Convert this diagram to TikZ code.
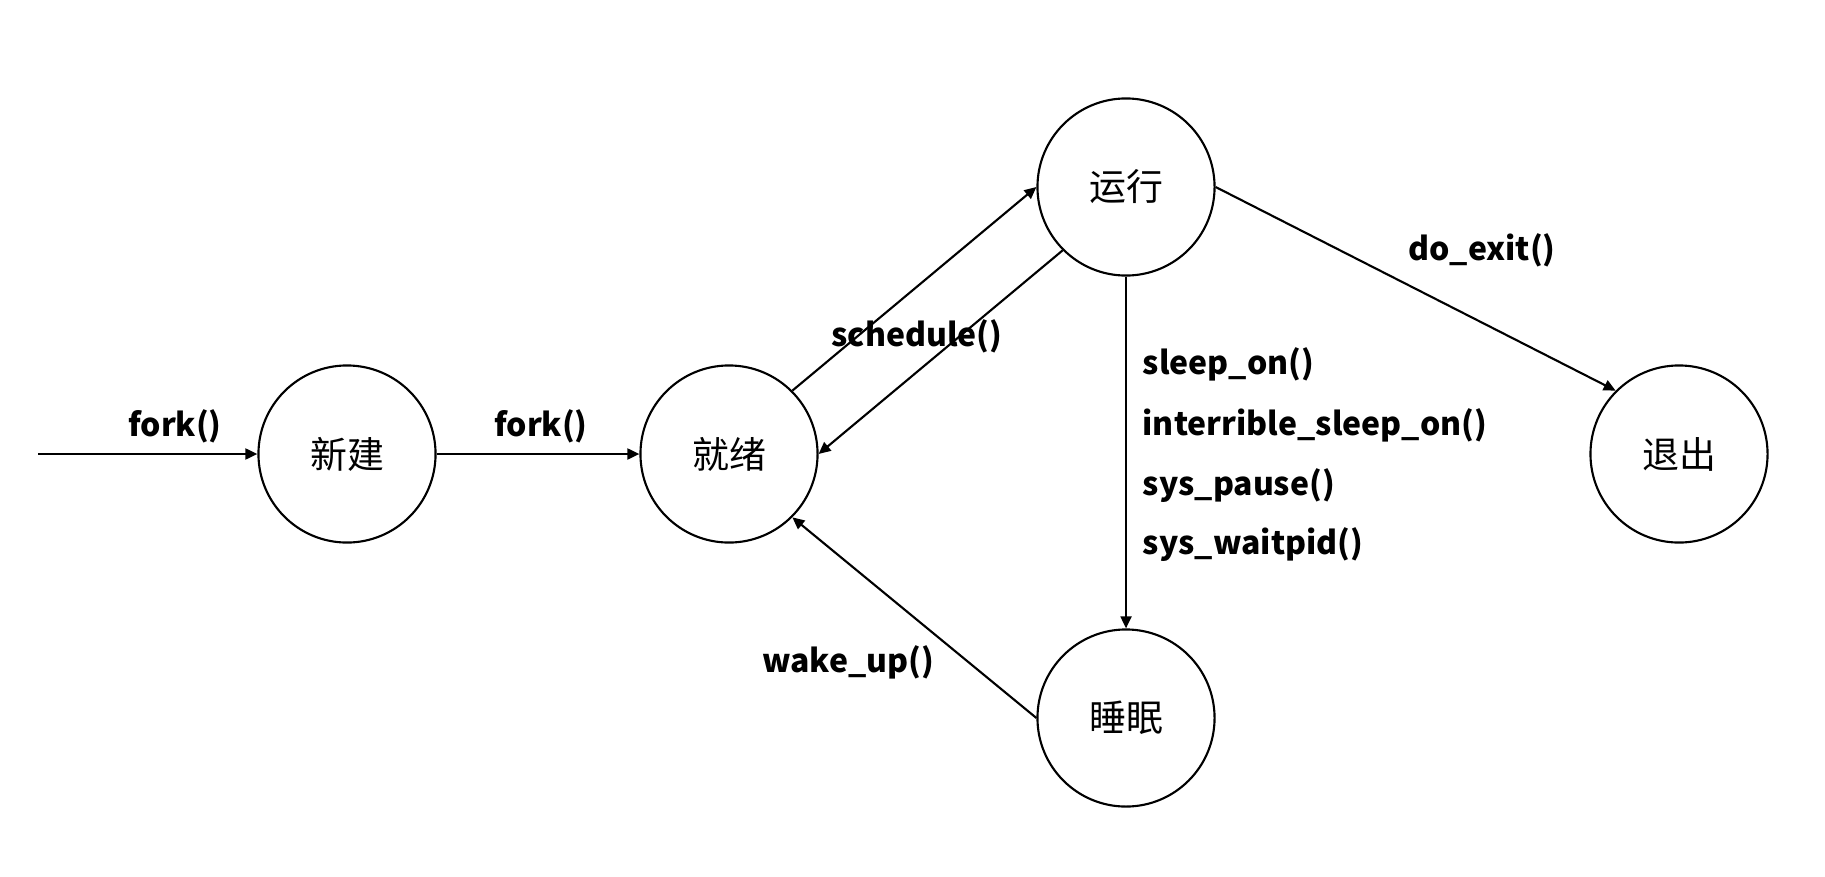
\documentclass[tikz,border=0pt]{standalone}
\usepackage{fontspec}
\setmainfont{Noto Sans CJK SC}
\usetikzlibrary{arrows.meta}

\tikzset{
  state/.style={draw, circle, line width=0.6pt, minimum size=1.77cm, inner sep=0pt, font=\fontsize{10.5pt}{12pt}\selectfont},
  lab/.style={draw=none, inner sep=0pt, font=\fontsize{9.1pt}{10pt}\selectfont\bfseries},
  arr/.style={line width=0.6pt, -{Triangle[length=3.4pt, width=3.1pt]}}
}

\begin{document}
\begin{tikzpicture}[x=0.01cm, y=-0.01cm]
    \useasboundingbox (0,0) rectangle (1825,876);
    % states
    \node(new) at (347,454) [state] {新建};
    \node(ready) at (729,454) [state] {就绪};
    \node(run) at (1126,187) [state] {运行};
    \node(sleep) at (1126,718) [state] {睡眠};
    \node(exit) at (1679,454) [state] {退出};
    \coordinate(start) at (38,454);
    % labels
    \node(lfork1) at (175,436) [lab, anchor=base] {fork()};
    \node(lfork2) at (541,436) [lab, anchor=base] {fork()};
    \node(lsched) at (917,346) [lab, anchor=base] {schedule()};
    \node(lexit) at (1482,260) [lab, anchor=base] {do\_exit()};
    \node(lwake) at (848,672) [lab, anchor=base] {wake\_up()};
    \node(ls1) at (1142,374) [lab, anchor=base west] {sleep\_on()};
    \node(ls2) at (1142,435) [lab, anchor=base west] {interrible\_sleep\_on()};
    \node(ls3) at (1142,495) [lab, anchor=base west] {sys\_pause()};
    \node(ls4) at (1142,554) [lab, anchor=base west] {sys\_waitpid()};
    % transitions
    \draw[arr] (start) -- (new);
    \draw[arr] (new) -- (ready);
    \draw[arr] (ready.45) -- (run.west);
    \draw[arr] (run.225) -- (ready.east);
    \draw[arr] (run) -- (sleep);
    \draw[arr] (run.east) -- (exit.135);
    \draw[arr] (sleep.west) -- (ready.-45);
\end{tikzpicture}
\end{document}
